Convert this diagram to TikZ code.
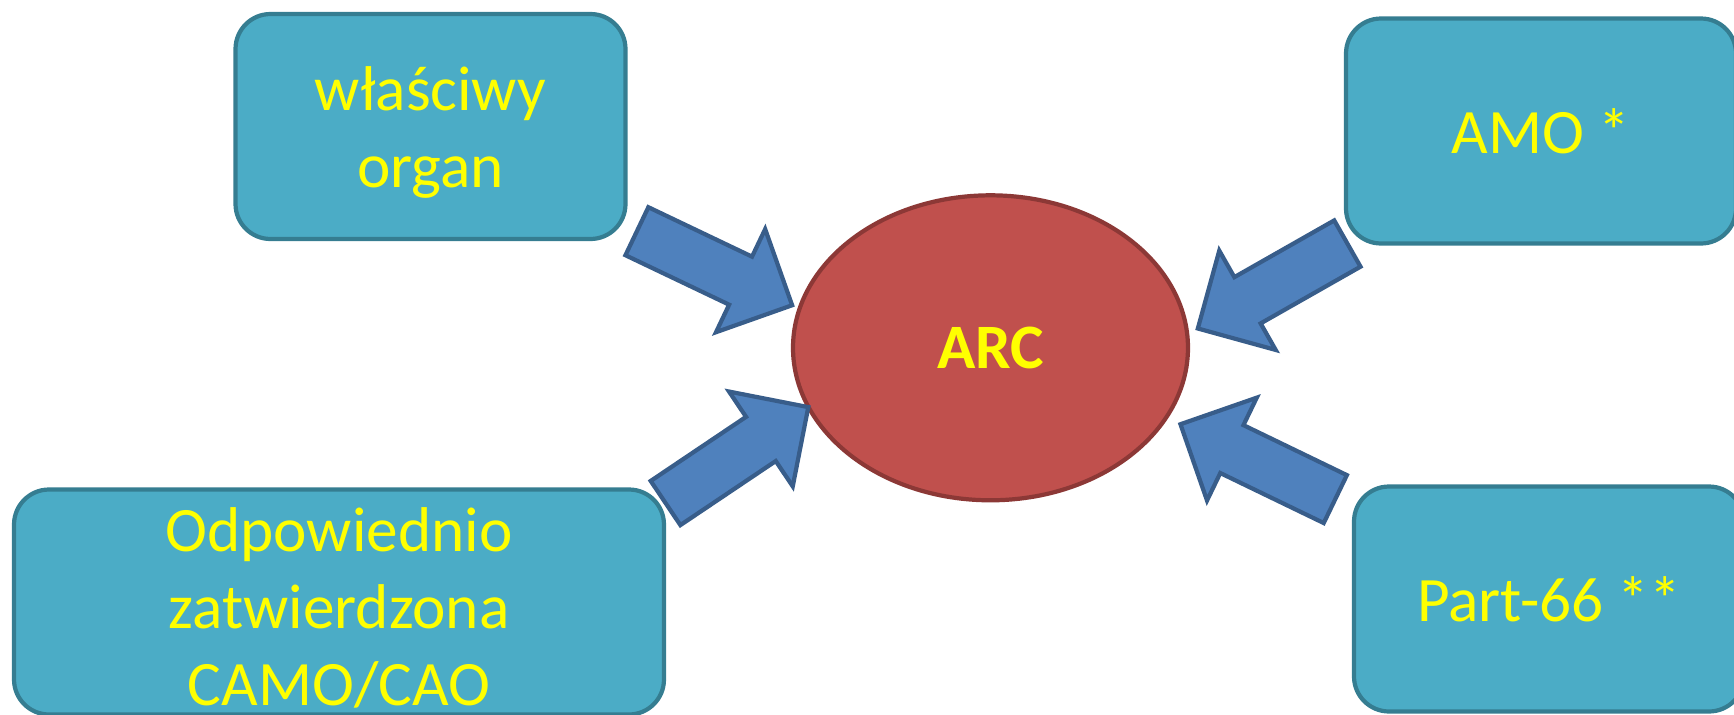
\documentclass[tikz,border=0pt]{standalone}
\usepackage{fontspec}
\setmainfont{Carlito}
\usepackage{xcolor}
\usetikzlibrary{shapes.geometric,shapes.arrows}
\definecolor{boxfill}{HTML}{4BACC6}
\definecolor{boxline}{HTML}{357D91}
\definecolor{arcfill}{HTML}{C0504D}
\definecolor{arcline}{HTML}{8C3836}
\definecolor{arrowfill}{HTML}{4F81BD}
\definecolor{arrowline}{HTML}{385D8A}
\definecolor{labelyellow}{HTML}{FFFF00}

\begin{document}
\begin{tikzpicture}[scale=0.1]
\tikzstyle{every node}+=[inner sep=0pt]
\tikzstyle{box}=[draw=boxline, fill=boxfill, line width=1.2pt, rounded corners=0.35cm, text=labelyellow, align=center, font=\fontsize{18}{21.9}\selectfont, minimum width=3.9cm, minimum height=2.25cm]
\tikzstyle{blockarrow}=[single arrow, draw=arrowline, fill=arrowfill, line width=1.2pt, inner sep=0.245cm, single arrow head extend=0.305cm, minimum height=1.72cm, anchor=tail]
\useasboundingbox (0,0) rectangle (173.4,-71.5);
\node [box] (organ) at (43.05,-12.65) {\rule{0pt}{0.56cm}właściwy\\organ};
\node [box] (amo) at (154.1,-13.1) {AMO *};
\node [box] (part) at (154.9,-59.9) {Part-66 **};
\node [box, minimum width=6.5cm] (camo) at (33.9,-60.2) {\rule{0pt}{0.56cm}Odpowiednio\\zatwierdzona\\CAMO/CAO};
\node [ellipse, draw=arcline, fill=arcfill, line width=1.2pt, minimum width=3.95cm, minimum height=3.05cm, text=labelyellow, font=\fontsize{18}{21.9}\selectfont\bfseries] (arc) at (99.05,-34.78) {ARC};
\node [blockarrow, rotate=-25.5] (organarrow) at (63.5,-23.03) {};
\node [blockarrow, rotate=33.9] (camoarrow) at (66.38,-50.42) {};
\node [blockarrow, rotate=-150.4] (amoarrow) at (134.92,-24.25) {};
\node [blockarrow, rotate=154.2] (partarrow) at (133.72,-50.0) {};
\end{tikzpicture}
\end{document}
